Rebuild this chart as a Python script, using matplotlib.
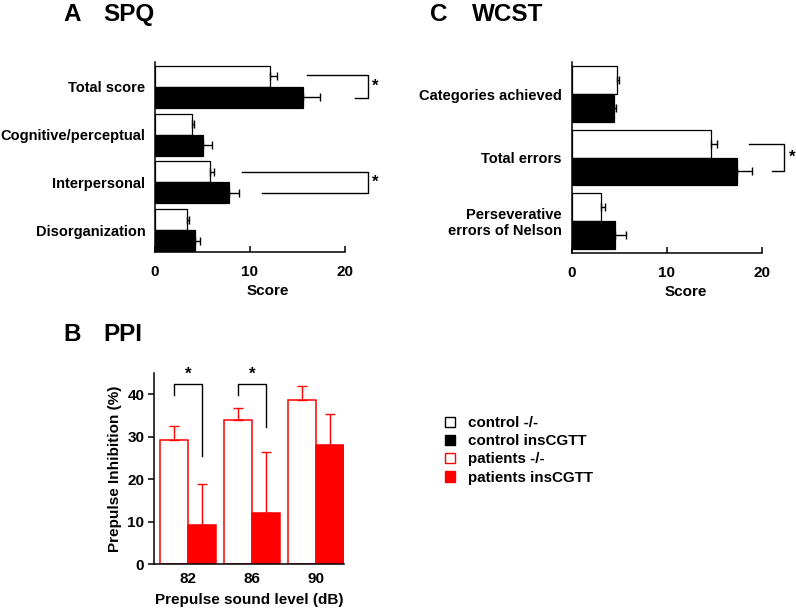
import numpy as np
import matplotlib
matplotlib.use("Agg")
import matplotlib.pyplot as plt
from matplotlib.patches import Patch

plt.rcParams['font.family'] = ['Liberation Sans', 'DejaVu Sans']
plt.rcParams['font.weight'] = 'bold'
plt.rcParams['font.size'] = 10

# A: SPQ
spq_labels = ['Total score', 'Cognitive/perceptual', 'Interpersonal', 'Disorganization']
spq_ctrl_wt = [12.1, 3.9, 5.8, 3.35]
spq_ctrl_wt_sem = [0.7, 0.2, 0.4, 0.25]
spq_ctrl_ins = [15.6, 5.1, 7.8, 4.2]
spq_ctrl_ins_sem = [1.8, 0.9, 1.0, 0.5]

# C: WCST
wcst_labels = ['Categories achieved', 'Total errors', 'Perseverative\nerrors of Nelson']
wcst_ctrl_wt = [4.8, 14.7, 3.1]
wcst_ctrl_wt_sem = [0.2, 0.6, 0.4]
wcst_ctrl_ins = [4.4, 17.4, 4.6]
wcst_ctrl_ins_sem = [0.3, 1.6, 1.1]

# B: PPI
ppi_levels = ['82', '86', '90']
ppi_pat_wt = [29.1, 34.0, 38.75]
ppi_pat_wt_sem = [3.3, 2.8, 3.15]
ppi_pat_ins = [9.1, 12.0, 28.1]
ppi_pat_ins_sem = [9.8, 14.3, 7.3]

RED = '#ff0000'
W, H = 796, 608
fig = plt.figure(figsize=(W / 100, H / 100), dpi=100)


def px_axes(x0, y0, x1, y1):
    return fig.add_axes([x0 / W, 1 - y1 / H, (x1 - x0) / W, (y1 - y0) / H])


def hbar_panel(ax, labels, wt, wt_sem, ins, ins_sem, h, ylim, xmax):
    y = np.arange(len(labels))
    ax.barh(y - h / 2, wt, height=h, color='white', edgecolor='black', linewidth=0.9)
    ax.barh(y + h / 2, ins, height=h, color='black', edgecolor='black', linewidth=0.9)
    ax.errorbar(wt, y - h / 2, xerr=[np.zeros(len(wt)), wt_sem], fmt='none',
                ecolor='black', elinewidth=1, capsize=3, capthick=1)
    ax.errorbar(ins, y + h / 2, xerr=[np.zeros(len(ins)), ins_sem], fmt='none',
                ecolor='black', elinewidth=1, capsize=3, capthick=1)
    ax.set_ylim(*ylim)
    ax.set_xlim(0, xmax)
    ax.set_yticks(y)
    ax.set_yticklabels(labels, fontweight='bold', fontsize=10.5)
    ax.tick_params(axis='y', length=0, pad=7)
    ax.set_xticks([0, 10, 20])
    ax.tick_params(axis='x', direction='in', length=4, width=1.1, pad=9, labelsize=11)
    for t in ax.get_xticklabels():
        t.set_fontweight('bold')
    ax.spines['top'].set_visible(False)
    ax.spines['right'].set_visible(False)
    ax.spines['bottom'].set_bounds(0, 20)
    for s in ('left', 'bottom'):
        ax.spines[s].set_linewidth(1.1)
    ax.set_xlabel('Score', fontweight='bold', fontsize=11, labelpad=4)


def hbracket(ax, x_top, y_top, x_bot, y_bot, x_right):
    ax.plot([x_top, x_right, x_right, x_bot], [y_top, y_top, y_bot, y_bot],
            color='black', lw=1, clip_on=False)
    ax.text(x_right + 0.45, (y_top + y_bot) / 2, '*', ha='left', va='center',
            fontsize=12, fontweight='bold')


# Panel A
axA = px_axes(155, 62, 380, 252)
hbar_panel(axA, spq_labels, spq_ctrl_wt, spq_ctrl_wt_sem, spq_ctrl_ins, spq_ctrl_ins_sem,
           0.44, (3.46, -0.52), 225 / 9.5)
hbracket(axA, 16.0, -0.25, 21.05, 0.23, 22.4)
hbracket(axA, 9.15, 1.78, 11.3, 2.22, 22.4)

# Panel C
axC = px_axes(571.7, 62, 800, 253)
hbar_panel(axC, wcst_labels, wcst_ctrl_wt, wcst_ctrl_wt_sem, wcst_ctrl_ins, wcst_ctrl_ins_sem,
           0.44, (2.51, -0.51), 228.3 / 9.5)
hbracket(axC, 18.7, 0.78, 21.1, 1.22, 22.4)

# Panel B
axB = px_axes(154, 373, 344, 564)
x = np.arange(len(ppi_levels))
bw = 0.44
axB.bar(x - bw / 2, ppi_pat_wt, width=bw, color='white', edgecolor=RED, linewidth=1.1)
axB.bar(x + bw / 2, ppi_pat_ins, width=bw, color=RED, edgecolor=RED, linewidth=1.1)
axB.errorbar(x - bw / 2, ppi_pat_wt, yerr=[np.zeros(3), ppi_pat_wt_sem], fmt='none',
             ecolor=RED, elinewidth=1, capsize=3.5, capthick=1)
axB.errorbar(x + bw / 2, ppi_pat_ins, yerr=[np.zeros(3), ppi_pat_ins_sem], fmt='none',
             ecolor=RED, elinewidth=1, capsize=3.5, capthick=1)
axB.set_xlim(-0.54, 2.44)
axB.set_ylim(0, 45)
axB.set_xticks(x)
axB.set_xticklabels(ppi_levels, fontweight='bold', fontsize=11)
axB.tick_params(axis='x', length=0, pad=6)
axB.set_yticks([0, 10, 20, 30, 40])
axB.tick_params(axis='y', direction='out', length=4, width=1.1, pad=3, labelsize=11)
for t in axB.get_yticklabels():
    t.set_fontweight('bold')
axB.spines['top'].set_visible(False)
axB.spines['right'].set_visible(False)
for s in ('left', 'bottom'):
    axB.spines[s].set_linewidth(1.1)
axB.set_xlabel('Prepulse sound level (dB)', fontweight='bold', fontsize=11, labelpad=5)
axB.set_ylabel('Prepulse Inhibition (%)', fontweight='bold', fontsize=11, labelpad=4)

for i, low in [(0, 25.4), (1, 32.3)]:
    xl, xr = i - bw / 2, i + bw / 2
    axB.plot([xl, xl, xr, xr], [39.7, 42.4, 42.4, low], color='black', lw=1, clip_on=False)
    axB.text(i, 42.9, '*', ha='center', va='bottom', fontsize=12, fontweight='bold')

# panel titles
for letter, name, lx, nx, yy in [('A', 'SPQ', 63, 103, 14.5), ('C', 'WCST', 430, 472, 14.5),
                                 ('B', 'PPI', 63, 103, 334.5)]:
    fig.text(lx / W, 1 - yy / H, letter, ha='left', va='center', fontsize=17.5, fontweight='bold')
    fig.text(nx / W, 1 - yy / H, name, ha='left', va='center', fontsize=17.5, fontweight='bold')

# legend
handles = [Patch(facecolor='white', edgecolor='black', linewidth=1),
           Patch(facecolor='black', edgecolor='black', linewidth=1),
           Patch(facecolor='white', edgecolor=RED, linewidth=1),
           Patch(facecolor=RED, edgecolor=RED, linewidth=1)]
leg_labels = ['control -/-', 'control insCGTT', 'patients -/-', 'patients insCGTT']
leg = fig.legend(handles, leg_labels, loc='upper left', bbox_to_anchor=(445 / W, 1 - 416 / H),
                 frameon=False, handlelength=0.67, handleheight=0.67, handletextpad=0.87,
                 labelspacing=0.28, borderpad=0, borderaxespad=0,
                 prop={'weight': 'bold', 'size': 10.9})

fig.savefig('out.png', dpi=100)
